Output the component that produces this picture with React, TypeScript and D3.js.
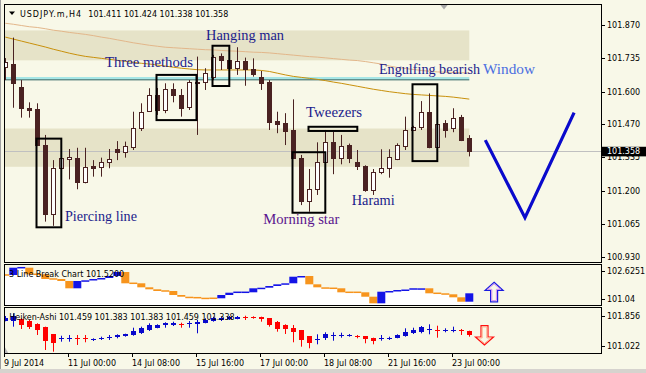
import React, { useRef, useEffect } from "react";
import * as d3 from "d3";

// ---- main chart: USDJPY.m H4 candles ----
const opens = [
  101.7, 101.712, 101.62, 101.533, 101.529, 101.384, 101.104, 101.29, 101.326, 101.33,
  101.233, 101.299, 101.294, 101.314, 101.368, 101.357, 101.377, 101.452, 101.522, 101.587,
  101.526, 101.611, 101.587, 101.539, 101.64, 101.638, 101.661, 101.746, 101.728, 101.695,
  101.725, 101.691, 101.658, 101.64, 101.481, 101.472, 101.445, 101.33, 101.159, 101.205,
  101.317, 101.398, 101.33, 101.384, 101.317, 101.299, 101.202, 101.274, 101.292, 101.328,
  101.381, 101.445, 101.458, 101.517, 101.377, 101.472, 101.452, 101.499, 101.411,
];
const highs = [
  101.736, 101.819, 101.647, 101.557, 101.553, 101.425, 101.323, 101.334, 101.368, 101.373,
  101.373, 101.323, 101.333, 101.368, 101.4, 101.398, 101.519, 101.553, 101.614, 101.615,
  101.634, 101.634, 101.611, 101.647, 101.742, 101.695, 101.749, 101.755, 101.74, 101.78,
  101.738, 101.735, 101.684, 101.647, 101.519, 101.513, 101.569, 101.344, 101.287, 101.395,
  101.445, 101.438, 101.425, 101.39, 101.364, 101.302, 101.287, 101.367, 101.367, 101.391,
  101.499, 101.462, 101.562, 101.593, 101.47, 101.485, 101.533, 101.506, 101.424,
];
const lows = [
  101.647, 101.535, 101.495, 101.495, 101.38, 101.074, 101.057, 101.283, 101.245, 101.205,
  101.229, 101.256, 101.256, 101.29, 101.323, 101.333, 101.364, 101.441, 101.519, 101.506,
  101.513, 101.557, 101.499, 101.526, 101.425, 101.607, 101.647, 101.688, 101.688, 101.668,
  101.624, 101.661, 101.607, 101.445, 101.432, 101.384, 101.328, 101.141, 101.114, 101.182,
  101.314, 101.266, 101.306, 101.311, 101.283, 101.195, 101.182, 101.266, 101.252, 101.323,
  101.364, 101.441, 101.445, 101.371, 101.373, 101.414, 101.436, 101.4, 101.338,
];
const closes = [
  101.72, 101.634, 101.533, 101.527, 101.384, 101.104, 101.29, 101.33, 101.334, 101.233,
  101.296, 101.292, 101.314, 101.328, 101.357, 101.38, 101.452, 101.519, 101.587, 101.526,
  101.611, 101.587, 101.535, 101.638, 101.641, 101.674, 101.742, 101.73, 101.695, 101.725,
  101.691, 101.67, 101.636, 101.479, 101.47, 101.441, 101.33, 101.159, 101.206, 101.317,
  101.395, 101.33, 101.381, 101.33, 101.3, 101.202, 101.274, 101.29, 101.334, 101.384,
  101.445, 101.458, 101.517, 101.375, 101.468, 101.445, 101.495, 101.404, 101.358,
];

// moving averages
const slowMA = [
  101.877, 101.873, 101.868, 101.863, 101.86, 101.855, 101.849, 101.845, 101.84, 101.836,
  101.832, 101.827, 101.821, 101.816, 101.81, 101.804, 101.798, 101.793, 101.788, 101.784,
  101.78, 101.778, 101.776, 101.774, 101.772, 101.77, 101.769, 101.767, 101.765, 101.764,
  101.762, 101.76, 101.759, 101.757, 101.754, 101.751, 101.748, 101.745, 101.742, 101.74,
  101.737, 101.734, 101.731, 101.728, 101.726, 101.722, 101.717, 101.712, 101.704, 101.698,
  101.694, 101.69, 101.686, 101.683, 101.68, 101.679, 101.678, 101.677, 101.676,
];
const fastMA = [
  101.821, 101.813, 101.805, 101.797, 101.789, 101.781, 101.772, 101.764, 101.756, 101.749,
  101.743, 101.739, 101.735, 101.731, 101.727, 101.723, 101.719, 101.715, 101.712, 101.708,
  101.704, 101.699, 101.695, 101.692, 101.689, 101.688, 101.688, 101.688, 101.688, 101.688,
  101.688, 101.688, 101.686, 101.682, 101.675, 101.668, 101.662, 101.658, 101.654, 101.65,
  101.645, 101.639, 101.634, 101.628, 101.622, 101.616, 101.61, 101.605, 101.6, 101.596,
  101.592, 101.589, 101.587, 101.585, 101.583, 101.581, 101.578, 101.574, 101.57,
];

// zones, lines and pattern boxes (bar index / price)
const zones = [
  { from: -2, to: 58, top: 101.848, bottom: 101.727 },
  { from: -2, to: 58, top: 101.451, bottom: 101.296 },
];
const levelLine = { from: -2, to: 58, price: 101.654, under: 101.648 };
const currentPrice = 101.358;
const boxes = [
  { from: 3.9, to: 7.0, top: 101.41, bottom: 101.051 },
  { from: 18.9, to: 23.9, top: 101.668, bottom: 101.485 },
  { from: 25.9, to: 28.0, top: 101.786, bottom: 101.623 },
  { from: 35.9, to: 40.0, top: 101.355, bottom: 101.11 },
  { from: 37.9, to: 44.0, top: 101.458, bottom: 101.441 },
  { from: 50.9, to: 54.0, top: 101.63, bottom: 101.319 },
];
const patternNames = ["Hanging man", "Three methods", "Engulfing bearish", "Window", "Tweezers", "Piercing line", "Morning star", "Harami"];
const patternBars = [25.09, 12.46, 46.71, 59.71, 37.59, 7.46, 32.25, 43.3];
const patternPrices = [101.809, 101.701, 101.672, 101.672, 101.498, 101.076, 101.064, 101.141];
const patternWidths = [78, 88, 101, 52, 56, 72, 76, 43];
const patternColors = ["#1c1c8c", "#1c1c8c", "#1c1c8c", "#4a6ee0", "#1c1c8c", "#1c1c8c", "#5a148e", "#1c1c8c"];
const forecastBars = [60, 64.96, 71.1];
const forecastPrices = [101.404, 101.09, 101.515];

const priceTicks = [101.87, 101.735, 101.6, 101.47, 101.335, 101.2, 101.065, 100.93];
const timeBars = [0, 8, 16, 24, 32, 40, 48, 56];
const timeLabels = ["9 Jul 2014", "11 Jul 00:00", "14 Jul 08:00", "15 Jul 16:00", "17 Jul 00:00", "18 Jul 08:00", "21 Jul 16:00", "23 Jul 00:00"];

// ---- 3 Line Break panel ----
const lbLevels = [
  102.399, 102.812, 102.812, 102.438, 102.438, 102.172, 102.172, 102.059, 101.646, 102.059,
  102.099, 102.172, 102.229, 102.342, 102.568, 101.929, 101.929, 101.702, 101.589, 101.493,
  101.493, 101.266, 101.17, 101.136, 101.114, 101.08, 101.08, 101.266, 101.397, 101.419,
  101.419, 101.646, 101.68, 101.776, 101.872, 101.929, 102.302, 102.342, 101.872, 101.702,
  101.646, 101.646, 101.419, 101.419, 101.419, 101.17, 100.796, 101.453, 101.493, 101.549,
  101.578, 101.606, 101.646, 101.363, 101.363, 101.306, 101.136, 100.887, 101.363,
];
const lbTicks = [102.6251, 101.04];
const lbTickLabels = ["102.6251", "101.04"];

// ---- Heiken-Ashi panel ----
const haOpen = [
  101.736, 101.717, 101.764, 101.717, 101.625, 101.559, 101.356, 101.23, 101.232, 101.24,
  101.24, 101.215, 101.24, 101.258, 101.264, 101.3, 101.328, 101.392, 101.467, 101.531,
  101.586, 101.606, 101.636, 101.65, 101.634, 101.67, 101.717, 101.745, 101.773, 101.792,
  101.824, 101.822, 101.82, 101.792, 101.698, 101.606, 101.514, 101.467, 101.3, 101.204,
  101.236, 101.32, 101.322, 101.31, 101.312, 101.3, 101.236, 101.232, 101.234, 101.253,
  101.3, 101.375, 101.403, 101.49, 101.47, 101.45, 101.464, 101.47, 101.447,
];
const haClose = [
  101.809, 101.856, 101.606, 101.559, 101.467, 101.169, 101.097, 101.24, 101.24, 101.232,
  101.232, 101.222, 101.246, 101.266, 101.328, 101.347, 101.439, 101.531, 101.606, 101.606,
  101.653, 101.653, 101.63, 101.656, 101.681, 101.745, 101.792, 101.809, 101.828, 101.837,
  101.816, 101.816, 101.764, 101.606, 101.514, 101.495, 101.403, 101.189, 101.097, 101.212,
  101.356, 101.336, 101.332, 101.316, 101.304, 101.208, 101.161, 101.24, 101.24, 101.328,
  101.42, 101.467, 101.542, 101.5, 101.464, 101.456, 101.47, 101.464, 101.347,
];
const haHigh = [
  101.856, 101.931, 101.792, 101.745, 101.653, 101.559, 101.356, 101.308, 101.328, 101.328,
  101.328, 101.236, 101.281, 101.328, 101.347, 101.364, 101.531, 101.559, 101.653, 101.625,
  101.681, 101.698, 101.67, 101.717, 101.745, 101.792, 101.837, 101.837, 101.856, 101.856,
  101.864, 101.848, 101.837, 101.792, 101.717, 101.625, 101.606, 101.467, 101.3, 101.347,
  101.403, 101.403, 101.392, 101.356, 101.328, 101.3, 101.253, 101.328, 101.281, 101.347,
  101.514, 101.531, 101.578, 101.625, 101.586, 101.514, 101.559, 101.495, 101.447,
];
const haLow = [
  101.709, 101.559, 101.495, 101.495, 101.328, 100.911, 100.864, 101.142, 101.142, 101.05,
  101.125, 101.161, 101.189, 101.189, 101.236, 101.281, 101.308, 101.356, 101.439, 101.514,
  101.531, 101.578, 101.531, 101.531, 101.375, 101.653, 101.698, 101.717, 101.745, 101.764,
  101.745, 101.781, 101.698, 101.559, 101.42, 101.356, 101.125, 101.003, 100.958, 101.069,
  101.189, 101.169, 101.253, 101.281, 101.236, 101.097, 101.069, 101.169, 101.189, 101.236,
  101.281, 101.356, 101.375, 101.347, 101.253, 101.403, 101.403, 101.328, 101.281,
];
const haTicks = [101.856, 101.022];
const haTickLabels = ["101.856", "101.022"];
const upSignal = { bar: 61.1, price: 101.985 };
const downSignal = { bar: 59.9, price: 101.05 };

const BG = "#f8f8e8";
const CANDLE = "#4a2222";
const FONT = "DejaVu Sans, Verdana, sans-serif";

const App: React.FC = () => {
  const svgRef = useRef<SVGSVGElement>(null);

  useEffect(() => {
    if (!svgRef.current) return;
    const svg = d3.select(svgRef.current);
    svg.selectAll("*").remove();

    const main = { left: 4.5, right: 601.5, top: 4.5, bottom: 262.5 };
    const lbP = { top: 264.5, bottom: 305.5 };
    const haP = { top: 307.5, bottom: 353.5 };

    const x = d3.scaleLinear().domain([0, 58]).range([5.3, 469.3]);
    const y = d3.scaleLinear().domain([100.93, 101.87]).range([257.2, 25]);
    const yLB = d3.scaleLinear().domain([101.04, 102.6251]).range([299, 271]);
    const yHA = d3.scaleLinear().domain([101.022, 101.856]).range([346, 316]);

    svg.append("rect").attr("width", 646).attr("height", 373).attr("fill", BG);

    const defs = svg.append("defs");
    const clip = (id: string, t: number, b: number) =>
      defs.append("clipPath").attr("id", id).append("rect")
        .attr("x", main.left).attr("y", t).attr("width", main.right - main.left).attr("height", b - t);
    clip("cMain", main.top, main.bottom);
    clip("cLB", lbP.top, lbP.bottom);
    clip("cHA", haP.top, haP.bottom);

    // ---------- main chart ----------
    const g = svg.append("g").attr("clip-path", "url(#cMain)");

    zones.forEach((z) => {
      g.append("rect")
        .attr("x", x(z.from)).attr("width", x(z.to) - x(z.from))
        .attr("y", y(z.top)).attr("height", y(z.bottom) - y(z.top))
        .attr("fill", "#e6e3c8");
    });

    g.append("line")
      .attr("x1", main.left).attr("x2", main.right)
      .attr("y1", Math.round(y(currentPrice)) + 0.5).attr("y2", Math.round(y(currentPrice)) + 0.5)
      .attr("stroke", "#c0c0c0");

    g.append("line")
      .attr("x1", x(levelLine.from)).attr("x2", x(levelLine.to))
      .attr("y1", y(levelLine.price)).attr("y2", y(levelLine.price))
      .attr("stroke", "#a6e6e6").attr("stroke-width", 2.5);
    g.append("line")
      .attr("x1", x(levelLine.from)).attr("x2", x(levelLine.to))
      .attr("y1", y(levelLine.under)).attr("y2", y(levelLine.under))
      .attr("stroke", "#2e6262").attr("stroke-width", 1);

    const maLine = d3.line<number>().x((_, i) => x(i)).y((d) => y(d));
    g.append("path").attr("d", maLine(slowMA)).attr("fill", "none").attr("stroke", "#e2b68a").attr("stroke-width", 1);
    g.append("path").attr("d", maLine(fastMA)).attr("fill", "none").attr("stroke", "#c8900c").attr("stroke-width", 1);

    opens.forEach((o, i) => {
      const c = closes[i];
      const cx = Math.round(x(i));
      g.append("line")
        .attr("x1", cx + 0.5).attr("x2", cx + 0.5)
        .attr("y1", y(highs[i])).attr("y2", y(lows[i]))
        .attr("stroke", CANDLE);
      const top = Math.round(y(Math.max(o, c))) + 0.5;
      const bot = Math.round(y(Math.min(o, c))) + 0.5;
      g.append("rect")
        .attr("x", cx - 1.5).attr("width", 4)
        .attr("y", top).attr("height", Math.max(1, bot - top))
        .attr("fill", c >= o ? "#ffffff" : CANDLE)
        .attr("stroke", CANDLE);
    });

    boxes.forEach((b) => {
      g.append("rect")
        .attr("x", x(b.from)).attr("width", x(b.to) - x(b.from))
        .attr("y", y(b.top)).attr("height", y(b.bottom) - y(b.top))
        .attr("fill", "none").attr("stroke", "#000").attr("stroke-width", 2);
    });

    patternNames.forEach((name, i) => {
      g.append("text")
        .attr("x", x(patternBars[i])).attr("y", y(patternPrices[i]))
        .attr("font-family", "Liberation Serif, Times New Roman, serif")
        .attr("font-size", 15)
        .attr("textLength", patternWidths[i]).attr("lengthAdjust", "spacingAndGlyphs")
        .attr("fill", patternColors[i])
        .text(name);
    });

    const vLine = d3.line<number>().x((d) => x(d)).y((_, i) => y(forecastPrices[i]));
    g.append("path").attr("d", vLine(forecastBars))
      .attr("fill", "none").attr("stroke", "#0a0acc").attr("stroke-width", 3.2)
      .attr("stroke-linejoin", "miter");

    // shift marker
    svg.append("path").attr("d", "M440,4.5 L448,4.5 L444,9.5 Z").attr("fill", "#a8a8a8");

    // title
    svg.append("path").attr("d", "M9,11.5 L15,11.5 L12,15 Z").attr("fill", "#000");
    svg.append("text").attr("x", 20).attr("y", 16.5)
      .attr("font-family", FONT).attr("font-size", 8).attr("fill", "#000")
      .attr("textLength", 61).attr("lengthAdjust", "spacing")
      .text("USDJPY.m,H4");
    svg.append("text").attr("x", 88.3).attr("y", 16.5)
      .attr("font-family", FONT).attr("font-size", 8).attr("fill", "#000")
      .attr("xml:space", "preserve")
      .text("101.411 101.424 101.338 101.358");

    // ---------- 3 line break ----------
    const lb = svg.append("g").attr("clip-path", "url(#cLB)");
    const half = 4;
    const area = d3.area<number>()
      .x((_, i) => (i === lbLevels.length ? x(lbLevels.length - 1) + half : x(i) - half))
      .y0(lbP.bottom)
      .y1((d) => yLB(d))
      .curve(d3.curveStepAfter);
    lb.append("path").attr("d", area([...lbLevels, lbLevels[lbLevels.length - 1]])).attr("fill", "#ffffff");

    let dirUp = false;
    lbLevels.forEach((lv, i) => {
      const prev = i === 0 ? lv : lbLevels[i - 1];
      if (lv > prev) dirUp = true;
      else if (lv < prev) dirUp = false;
      const y0 = yLB(prev);
      const y1 = yLB(lv);
      const same = Math.abs(y1 - y0) < 0.5;
      lb.append("rect")
        .attr("x", x(i) - half).attr("width", half * 2)
        .attr("y", same ? y1 - 0.75 : Math.min(y0, y1))
        .attr("height", same ? 1.5 : Math.max(1.5, Math.abs(y1 - y0)))
        .attr("fill", dirUp ? "#1414e6" : "#f7941d");
    });

    lb.append("text").attr("x", 9).attr("y", 277)
      .attr("font-family", FONT).attr("font-size", 8).attr("fill", "#000")
      .text("3 Line Break Chart 101.5200");

    const upX = x(upSignal.bar);
    const upY = yLB(upSignal.price);
    svg.append("path")
      .attr("transform", `translate(${upX},${upY})`)
      .attr("d", "M0,0 L9,8 L3.5,8 L3.5,19.5 L-3.5,19.5 L-3.5,8 L-9,8 Z")
      .attr("fill", "none").attr("stroke", "#1a1ae0").attr("stroke-width", 1.2);
    svg.append("path")
      .attr("transform", `translate(${upX},${upY})`)
      .attr("d", "M0,1.6 L6.5,7 L2.3,7 L2.3,18.3 L-2.3,18.3 L-2.3,7 L-6.5,7 Z")
      .attr("fill", "none").attr("stroke", "#cf8cf2").attr("stroke-width", 1);

    // ---------- heiken ashi ----------
    const ha = svg.append("g").attr("clip-path", "url(#cHA)");
    haOpen.forEach((o, i) => {
      const c = haClose[i];
      const col = c >= o ? "#0808cc" : "#ff0000";
      const cx = Math.round(x(i));
      ha.append("line")
        .attr("x1", cx + 0.5).attr("x2", cx + 0.5)
        .attr("y1", yHA(haHigh[i])).attr("y2", yHA(haLow[i]))
        .attr("stroke", col);
      const top = yHA(Math.max(o, c));
      const bot = yHA(Math.min(o, c));
      ha.append("rect")
        .attr("x", cx - 2).attr("width", 5)
        .attr("y", Math.round(top)).attr("height", Math.max(1, Math.round(bot - top)))
        .attr("fill", col);
    });
    ha.append("text").attr("x", 9.3).attr("y", 320)
      .attr("font-family", FONT).attr("font-size", 8).attr("fill", "#000")
      .attr("xml:space", "preserve")
      .text("Heiken-Ashi 101.459 101.383 101.383 101.459 101.338");
    ha.append("path").attr("d", `M${main.left},${haP.bottom - 7} L${main.left + 4},${haP.bottom} L${main.left},${haP.bottom} Z`).attr("fill", "#b8b8b8");

    const dnX = x(downSignal.bar);
    const dnY = yHA(downSignal.price);
    svg.append("path")
      .attr("transform", `translate(${dnX},${dnY})`)
      .attr("d", "M0,0 L-9,-8 L-3.5,-8 L-3.5,-19.3 L3.5,-19.3 L3.5,-8 L9,-8 Z")
      .attr("fill", "none").attr("stroke", "#ff1010").attr("stroke-width", 1.2);
    svg.append("path")
      .attr("transform", `translate(${dnX},${dnY})`)
      .attr("d", "M0,-1.6 L-6.5,-7 L-2.3,-7 L-2.3,-18.1 L2.3,-18.1 L2.3,-7 L6.5,-7 Z")
      .attr("fill", "none").attr("stroke", "#ffae8c").attr("stroke-width", 1);

    // ---------- frames ----------
    [
      [main.top, main.bottom],
      [lbP.top, lbP.bottom],
      [haP.top, haP.bottom],
    ].forEach(([t, b]) => {
      svg.append("rect")
        .attr("x", main.left).attr("y", t)
        .attr("width", main.right - main.left).attr("height", b - t)
        .attr("fill", "none").attr("stroke", "#000");
    });

    // ---------- right axes ----------
    const axisText = (label: string, yy: number) => {
      svg.append("line").attr("x1", 602).attr("x2", 605)
        .attr("y1", Math.round(yy) + 0.5).attr("y2", Math.round(yy) + 0.5).attr("stroke", "#000");
      svg.append("text").attr("x", 607).attr("y", yy + 3)
        .attr("font-family", FONT).attr("font-size", 8).attr("fill", "#000")
        .text(label);
    };
    priceTicks.forEach((v) => axisText(v.toFixed(3), y(v)));
    lbTicks.forEach((v, i) => axisText(lbTickLabels[i], yLB(v)));
    haTicks.forEach((v, i) => axisText(haTickLabels[i], yHA(v)));

    const cy = y(currentPrice);
    svg.append("rect").attr("x", 602).attr("y", cy - 4.7).attr("width", 44).attr("height", 9.6).attr("fill", "#000");
    svg.append("text").attr("x", 607).attr("y", cy + 3)
      .attr("font-family", FONT).attr("font-size", 8).attr("fill", "#fff")
      .text(currentPrice.toFixed(3));

    // ---------- time axis ----------
    timeBars.forEach((b, i) => {
      const tx = Math.round(x(b)) - 0.5;
      svg.append("line").attr("x1", tx).attr("x2", tx)
        .attr("y1", haP.bottom).attr("y2", haP.bottom + 3.5).attr("stroke", "#000");
      svg.append("text").attr("x", tx - 0.5).attr("y", 366)
        .attr("font-family", FONT).attr("font-size", 8).attr("fill", "#000")
        .text(timeLabels[i]);
    });

    // window edges
    svg.append("line").attr("x1", 0.5).attr("x2", 0.5).attr("y1", 0).attr("y2", 373).attr("stroke", "#a0a0a0");
    svg.append("rect").attr("x", 0).attr("y", 369).attr("width", 646).attr("height", 4).attr("fill", "#d6d3ce");
  }, []);

  return (
    <div style={{ position: "absolute", left: 0, top: 0 }}>
      <svg ref={svgRef} width={646} height={373} style={{ display: "block" }}></svg>
    </div>
  );
};

export default App;
